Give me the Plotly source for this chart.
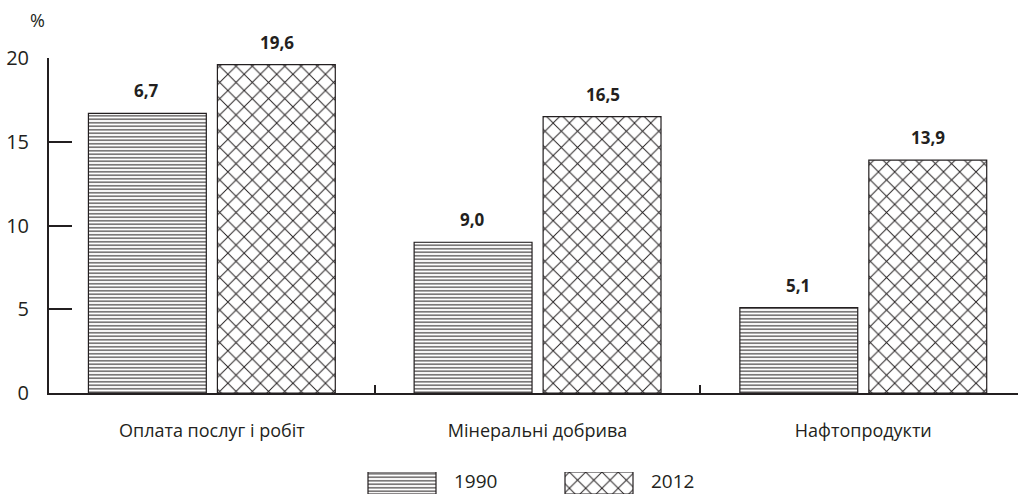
import plotly.graph_objects as go

categories = ["Оплата послуг і робіт", "Мінеральні добрива", "Нафтопродукти"]
values_1990 = [16.7, 9.0, 5.1]
values_2012 = [19.6, 16.5, 13.9]
labels_1990 = ["6,7", "9,0", "5,1"]
labels_2012 = ["19,6", "16,5", "13,9"]
series_names = ["1990", "2012"]
y_ticks = [0, 5, 10, 15, 20]

INK = "#231f20"
FONT = "Open Sans"

W, H = 1018, 495
L, T = 49, 58
AX_BOTTOM = 393  # pixel of y=0
plot_h = H - T
main_dom0 = (H - AX_BOTTOM) / plot_h

fig = go.Figure()

pat_1990 = dict(shape="-", size=3.5, solidity=0.3, fgcolor=INK, bgcolor="white", fillmode="replace")
pat_2012 = dict(shape="x", size=11.5, solidity=0.16, fgcolor=INK, bgcolor="white", fillmode="replace")

fig.add_trace(go.Bar(
    x=categories, y=values_1990, name=series_names[0],
    marker=dict(color="white", pattern=pat_1990, line=dict(color=INK, width=1.2)),
    showlegend=False, xaxis="x", yaxis="y", hoverinfo="skip"))
fig.add_trace(go.Bar(
    x=categories, y=values_2012, name=series_names[1],
    marker=dict(color="white", pattern=pat_2012, line=dict(color=INK, width=1.2)),
    showlegend=False, xaxis="x", yaxis="y", hoverinfo="skip"))

# value labels
slot_shift = 65
for cat, v, lab in zip(categories, values_1990, labels_1990):
    fig.add_annotation(x=cat, y=v, xref="x", yref="y", text=f"<b>{lab}</b>", showarrow=False,
                       xshift=-slot_shift, yshift=9, yanchor="bottom",
                       font=dict(family=FONT, size=17, color=INK))
for cat, v, lab in zip(categories, values_2012, labels_2012):
    fig.add_annotation(x=cat, y=v, xref="x", yref="y", text=f"<b>{lab}</b>", showarrow=False,
                       xshift=slot_shift, yshift=9, yanchor="bottom",
                       font=dict(family=FONT, size=17, color=INK))

# legend drawn in a small second axis (pixel-like coordinates)
leg_x = [402, 599]
leg_w = 68
fig.add_trace(go.Bar(x=[leg_x[0]], y=[1], width=leg_w, xaxis="x2", yaxis="y2",
                     marker=dict(color="white", pattern=pat_1990, line=dict(color=INK, width=1.2)),
                     showlegend=False, hoverinfo="skip"))
fig.add_trace(go.Bar(x=[leg_x[1]], y=[1], width=leg_w, xaxis="x2", yaxis="y2",
                     marker=dict(color="white", pattern=pat_2012, line=dict(color=INK, width=1.2)),
                     showlegend=False, hoverinfo="skip"))
for xx, name in zip(leg_x, series_names):
    fig.add_annotation(x=xx + leg_w / 2 + 17, y=0.6, xref="x2", yref="y2", text=name,
                       showarrow=False, xanchor="left", yanchor="middle", borderpad=0,
                       font=dict(family=FONT, size=19, color=INK))

fig.add_annotation(x=(37 - L) / (W - L), y=1 + (T - 20) / plot_h, xref="paper", yref="paper",
                   text="%", showarrow=False, xanchor="center", yanchor="middle",
                   font=dict(family=FONT, size=18, color=INK))

fig.update_layout(
    template="none",
    width=W, height=H,
    margin=dict(l=L, r=0, t=T, b=0, pad=0, autoexpand=False),
    paper_bgcolor="white", plot_bgcolor="white",
    barmode="group", bargap=0.208, bargroupgap=0.086,
    font=dict(family=FONT, color=INK),
    xaxis=dict(domain=[0, 1], anchor="y", range=[-0.5, 2.475], showgrid=False, zeroline=False,
               automargin=False,
               showline=True, linecolor=INK, linewidth=2,
               ticks="inside", tickson="boundaries", ticklen=8, tickwidth=1.5, tickcolor=INK,
               ticklabelstandoff=20, tickfont=dict(family=FONT, size=18, color=INK), fixedrange=True),
    yaxis=dict(domain=[main_dom0, 1], anchor="x", range=[0, 20], tickvals=y_ticks,
               automargin=False,
               showgrid=False, zeroline=False, showline=True, linecolor=INK, linewidth=2,
               ticks="inside", ticklen=23, tickwidth=2, tickcolor=INK,
               ticklabelstandoff=14, tickfont=dict(family=FONT, size=20, color=INK), fixedrange=True),
    xaxis2=dict(domain=[0, 1], anchor="y2", range=[L, W], visible=False, fixedrange=True,
                automargin=False),
    yaxis2=dict(domain=[(H - 494) / plot_h, (H - 472) / plot_h], anchor="x2", range=[0, 1],
                visible=False, fixedrange=True, automargin=False),
)

fig.write_html(
    "out.html",
    config={"displayModeBar": False},
    post_script="document.documentElement.style.margin='0';document.body.style.margin='0';"
                "document.body.style.overflow='hidden';",
)
